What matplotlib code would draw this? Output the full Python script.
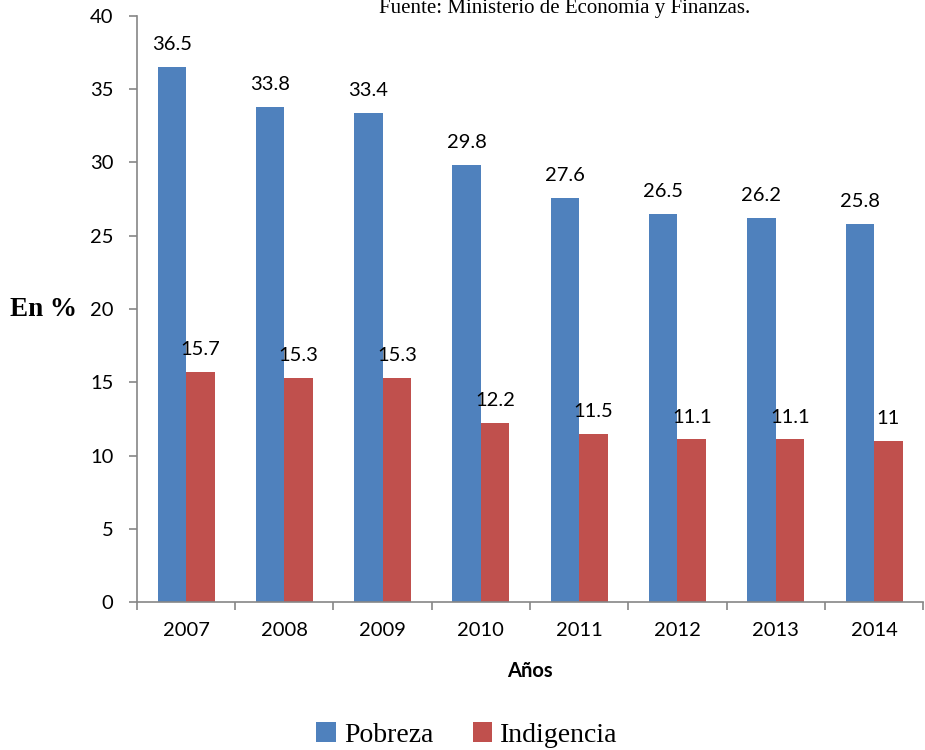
import matplotlib
matplotlib.use('Agg')
import matplotlib.pyplot as plt
import numpy as np

# Data
years = ['2007', '2008', '2009', '2010', '2011', '2012', '2013', '2014']
pobreza = [36.5, 33.8, 33.4, 29.8, 27.6, 26.5, 26.2, 25.8]
indigencia = [15.7, 15.3, 15.3, 12.2, 11.5, 11.1, 11.1, 11]

blue = '#4F81BD'
red = '#C0504D'
grey = '#868686'
num_font = 'Lato'
serif_font = 'Liberation Serif'

fig = plt.figure(figsize=(9.25, 7.5), dpi=100)
ax = fig.add_axes([0.148, 0.197, 0.85, 0.782])

x = np.arange(len(years))
w = 0.29
b1 = ax.bar(x - w / 2, pobreza, w, color=blue, label='Pobreza')
b2 = ax.bar(x + w / 2, indigencia, w, color=red, label='Indigencia')

# value labels above each bar
for bars, vals in [(b1, pobreza), (b2, indigencia)]:
    for rect, v in zip(bars, vals):
        ax.annotate(f'{v:g}', (rect.get_x() + rect.get_width() / 2, v),
                    xytext=(0, 10), textcoords='offset points', ha='center', va='bottom',
                    fontsize=14.5, family=num_font)

ax.set_xlim(-0.5, len(years) - 0.5)
ax.set_ylim(0, 40)
ax.set_yticks(range(0, 41, 5))
ax.set_xticks(x)
ax.set_xticklabels(years)
ax.set_xticks(np.arange(-0.5, len(years)), minor=True)
ax.tick_params(axis='x', which='major', length=0, pad=14)
ax.tick_params(axis='x', which='minor', length=6, color=grey, width=1.2)
ax.tick_params(axis='y', length=6, color=grey, width=1.2, pad=11)
for lbl in ax.get_xticklabels() + ax.get_yticklabels():
    lbl.set_fontsize(14.5)
    lbl.set_family(num_font)

for s in ['top', 'right']:
    ax.spines[s].set_visible(False)
for s in ['left', 'bottom']:
    ax.spines[s].set_color(grey)
    ax.spines[s].set_linewidth(1.2)

ax.set_xlabel('Años', fontsize=14.5, fontweight='bold', family=num_font, labelpad=16)
fig.text(0.047, 0.587, 'En %', fontsize=19.5, fontweight='bold', family=serif_font,
         ha='center', va='center')

fig.text(0.61, 0.988, 'Fuente: Ministerio de Economía y Finanzas.', fontsize=15,
         family=serif_font, ha='center', va='center')

fig.legend(handles=[b1, b2], labels=['Pobreza', 'Indigencia'], loc='center',
           bbox_to_anchor=(0.505, 0.02), ncol=2, frameon=False,
           prop={'family': serif_font, 'size': 20}, handlelength=0.7,
           handleheight=0.7, handletextpad=0.3, columnspacing=1.4)

fig.savefig('out.png', dpi=100)
